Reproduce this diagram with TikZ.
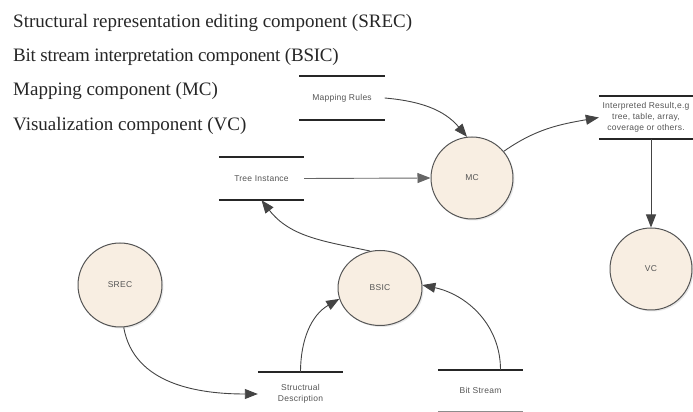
\documentclass[tikz,border=0pt]{standalone}
\usepackage{fontspec}
\setmainfont{Liberation Serif}
\newfontfamily\lblfont[LetterSpace=3]{Liberation Sans}
\newfontfamily\narrowserif[LetterSpace=-1.3]{Liberation Serif}
\usetikzlibrary{arrows.meta,shadows,shapes.geometric}

\definecolor{procfill}{HTML}{F8EEE2}
\definecolor{procedge}{HTML}{555555}
\definecolor{lbltext}{HTML}{555555}
\definecolor{flowline}{HTML}{444444}

\tikzset{
	lbl/.style={font=\lblfont\fontsize{8.5}{11}\selectfont, text=lbltext},
	proc/.style={circle, lbl, draw=procedge, line width=1pt, fill=procfill, minimum size=82pt,
		drop shadow={opacity=0.18, shadow xshift=1.5pt, shadow yshift=-1.5pt}},
	store/.style={lbl, align=center, minimum width=85pt, minimum height=43pt, inner sep=0pt},
	storeline/.style={line width=1.8pt, draw=black!85},
	flow/.style={draw=flowline, line width=0.9pt, -{Triangle[length=13pt,width=10pt]}},
	legend/.style={font=\fontsize{19}{22}\selectfont, text=black!85, anchor=base west, inner sep=0pt}
}

\begin{document}
\begin{tikzpicture}[x=1pt, y=1pt]
		\useasboundingbox (0,0) rectangle (693,412);
		
		% Legend
		\foreach \i/\y/\legtext in {1/384/Structural representation editing component (SREC),
			2/350/\narrowserif Bit stream interpretation component (BSIC),
			3/316/Mapping component (MC),
			4/281/Visualization component (VC)}
			\node[legend] (legend\i) at (13,\y) {\legtext};
		
		% Processes
		\node[proc] (mc) at (472,234) {MC};
		\node[proc] (vc) at (651,143) {VC};
		\node[proc, minimum size=84pt] (srec) at (120,127) {SREC};
		\node[proc, ellipse, minimum width=84pt, minimum height=75pt] (bsic) at (380,124) {BSIC};
		
		% Data stores
		\node[store] (rules) at (342,314) {Mapping Rules};
		\node[store] (tree) at (261.5,233.5) {Tree Instance};
		\node[store, minimum width=94pt] (result) at (646,294.5) {Interpreted Result,e.g\\tree, table, array,\\coverage or others.};
		\node[store] (structural) at (300.5,18) {Structrual\\Description};
		\node[store, minimum height=41pt] (bitstream) at (480.5,21.5) {Bit Stream};
		
		\foreach \s in {rules, tree, result, structural, bitstream}
			\draw[storeline] (\s.north west) -- (\s.north east);
		\foreach \s in {rules, tree, result}
			\draw[storeline] (\s.south west) -- (\s.south east);
		\draw[line width=0.8pt, draw=black!45] (bitstream.south west) -- (bitstream.south east);
		
		% Flows
		\draw[flow] (rules.east) to[out=-5, in=130] (mc.97);
		\draw[flow, draw=black!60] (tree.east) -- (mc.west);
		\draw[flow] (mc.40) to[out=35, in=190] (result.west);
		\draw[flow] (result.south -| vc.north) -- (vc.north);
		\draw[flow] (bsic.105) to[out=168, in=-52] (tree.south);
		\draw[flow] (srec.-85) to[out=-80, in=180] (structural.west);
		\draw[flow] (structural.north) to[out=90, in=210] (bsic.195);
		\draw[flow] ([xshift=20pt]bitstream.north) to[out=90, in=-12] (bsic.4);
	\end{tikzpicture}
\end{document}
